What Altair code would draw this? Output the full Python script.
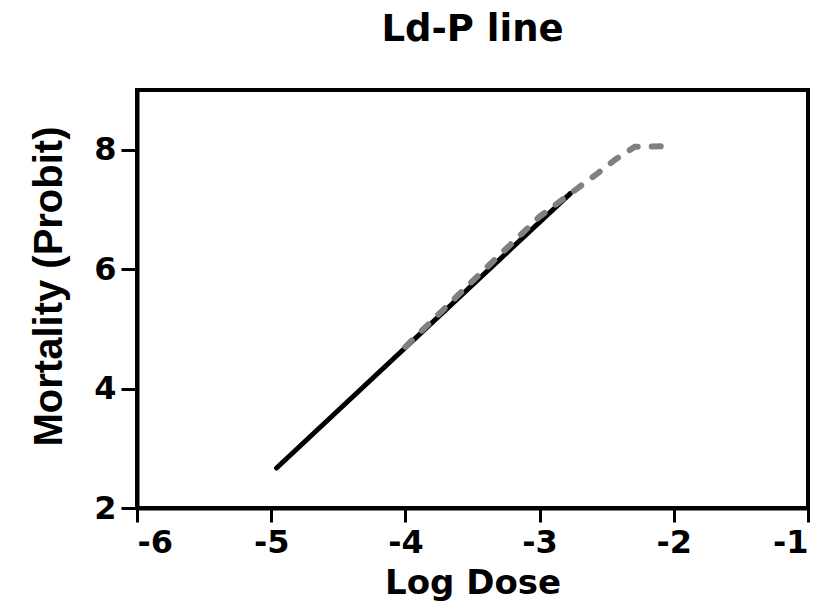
import altair as alt
import pandas as pd

# Fitted Ld-P line (solid black)
fit_x = [-4.96, -2.77]
fit_y = [2.67, 7.27]

# Observed / curve (dashed grey)
obs_x = [-4.0, -3.5, -3.0, -2.72, -2.57, -2.44, -2.29, -2.0]
obs_y = [4.70, 5.80, 6.88, 7.35, 7.60, 7.83, 8.05, 8.06]

x_ticks = [-6, -5, -4, -3, -2, -1]
y_ticks = [2, 4, 6, 8]

fit_df = pd.DataFrame({"x": fit_x, "y": fit_y})
obs_df = pd.DataFrame({"x": obs_x, "y": obs_y})

FONT = "DejaVu Sans"

xs = alt.Scale(domain=[-6, -1], nice=False, zero=False)
ys = alt.Scale(domain=[2, 9], nice=False, zero=False)

xax = alt.Axis(values=x_ticks, title="Log Dose", grid=False, tickSize=14,
               labelPadding=5, titlePadding=8, labelExpr="'' + datum.value",
               titleFontSize=34)
yax = alt.Axis(values=y_ticks, title="Mortality (Probit)", grid=False, tickSize=16,
               labelPadding=5, titlePadding=24, labelExpr="'' + datum.value",
               titleFont="Liberation Sans", titleFontSize=40, titleY=196)

fit = alt.Chart(fit_df).mark_line(color="black", strokeWidth=5, strokeCap="round").encode(
    x=alt.X("x:Q", scale=xs, axis=xax),
    y=alt.Y("y:Q", scale=ys, axis=yax),
)

obs = alt.Chart(obs_df).mark_line(color="#808080", strokeWidth=6, strokeCap="round",
                                  strokeDash=[9, 14]).encode(
    x=alt.X("x:Q", scale=xs),
    y=alt.Y("y:Q", scale=ys),
)

chart = alt.layer(fit, obs).properties(
    width=671,
    height=418,
    autosize=alt.AutoSizeParams(type="none"),
    padding={"left": 129, "top": 82, "right": 10, "bottom": 94},
    title=alt.TitleParams("Ld-P line", font=FONT, fontSize=37, fontWeight="bold",
                          color="black", anchor="middle", offset=41),
).configure_view(
    stroke="black", strokeWidth=4
).configure_axis(
    domainColor="black", domainWidth=4, tickColor="black", tickWidth=3,
    labelFont=FONT, labelFontSize=32, labelFontWeight="bold", labelColor="black",
    titleFont=FONT, titleFontWeight="bold", titleColor="black",
)

chart.save("out.html", embed_options={"renderer": "svg", "actions": False})
